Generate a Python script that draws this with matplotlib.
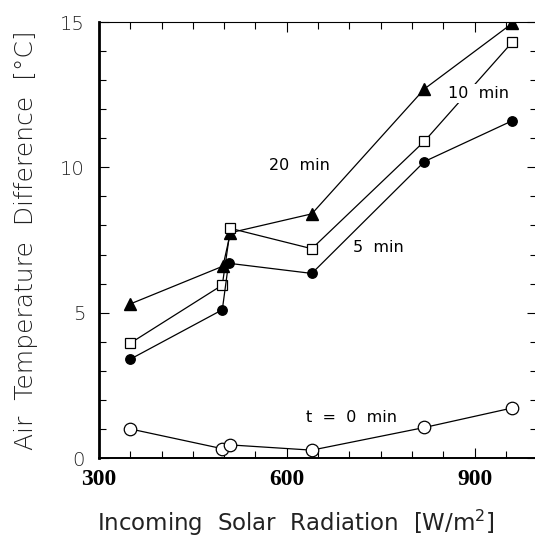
import matplotlib
matplotlib.use("Agg")
import matplotlib.pyplot as plt
from matplotlib.ticker import MultipleLocator

# Data
x_20 = [350, 498, 510, 640, 820, 960]
y_20 = [5.3, 6.6, 7.75, 8.4, 12.7, 14.95]

x_10 = [350, 497, 510, 640, 820, 960]
y_10 = [3.95, 5.95, 7.9, 7.2, 10.9, 14.3]

x_5 = [350, 497, 507, 640, 820, 960]
y_5 = [3.4, 5.1, 6.7, 6.35, 10.2, 11.6]

x_0 = [350, 497, 510, 640, 820, 960]
y_0 = [1.0, 0.32, 0.45, 0.27, 1.05, 1.72]

xticks = [300, 600, 900]
yticks = [0, 5, 10, 15]

fig = plt.figure(figsize=(5.35, 5.38), dpi=100)
ax = fig.add_axes([99/535, 1 - 458/538, 1.004 - 99/535, (458 - 22)/538])

lw = 0.9
ax.plot(x_20, y_20, '-', color='black', lw=lw, marker='^', ms=8.5, mfc='black', mec='black', zorder=3)
ax.plot(x_10, y_10, '-', color='black', lw=lw, marker='s', ms=7.5, mfc='white', mec='black', mew=0.9, zorder=3)
ax.plot(x_5, y_5, '-', color='black', lw=lw, marker='o', ms=6.8, mfc='black', mec='black', zorder=3)
ax.plot(x_0, y_0, '-', color='black', lw=lw, marker='o', ms=9, mfc='white', mec='black', mew=0.9, zorder=3)

ax.set_xlim(300, 1000)
ax.set_ylim(0, 15)
ax.set_xticks(xticks)
ax.set_yticks(yticks)
ax.xaxis.set_minor_locator(MultipleLocator(50))
ax.yaxis.set_minor_locator(MultipleLocator(1))
ax.tick_params(which='both', direction='in', top=True, right=True, width=0.8)
ax.tick_params(which='major', length=7)
ax.tick_params(which='minor', length=5)
ax.tick_params(axis='x', pad=8)
ax.tick_params(axis='y', pad=10)

for lbl in ax.get_xticklabels():
    lbl.set_family('Liberation Serif')
    lbl.set_fontweight('bold')
    lbl.set_fontsize(17)
for lbl in ax.get_yticklabels():
    lbl.set_family('DejaVu Sans')
    lbl.set_fontweight('light')
    lbl.set_fontsize(14)
    lbl.set_color('#222222')

ax.spines['left'].set_linewidth(2.0)
ax.spines['bottom'].set_linewidth(1.4)
ax.spines['top'].set_linewidth(0.8)
ax.spines['right'].set_linewidth(0.8)

lab_kw = dict(fontsize=11.5, family='DejaVu Sans', color='black', zorder=4)
ax.text(621, 10.07, '20  min', ha='center', va='center', **lab_kw)
ax.text(906, 12.55, '10  min', ha='center', va='center',
        bbox=dict(facecolor='white', edgecolor='none', pad=1.5), **lab_kw)
ax.text(747, 7.24, '5  min', ha='center', va='center', **lab_kw)
ax.text(704, 1.38, 't  =  0  min', ha='center', va='center', **lab_kw)

fig.text(26/535, 1 - 240/538, 'Air  Temperature  Difference  [°C]', rotation=90,
         ha='center', va='center', fontsize=18, family='DejaVu Sans', fontweight='light', color='#222222')
fig.text(97/535, 1 - 531/538, 'Incoming  Solar  Radiation  [W/m$^{2}$]',
         ha='left', va='baseline', fontsize=16.5, family='DejaVu Sans', color='#222222')

fig.savefig('out.png', dpi=100)
